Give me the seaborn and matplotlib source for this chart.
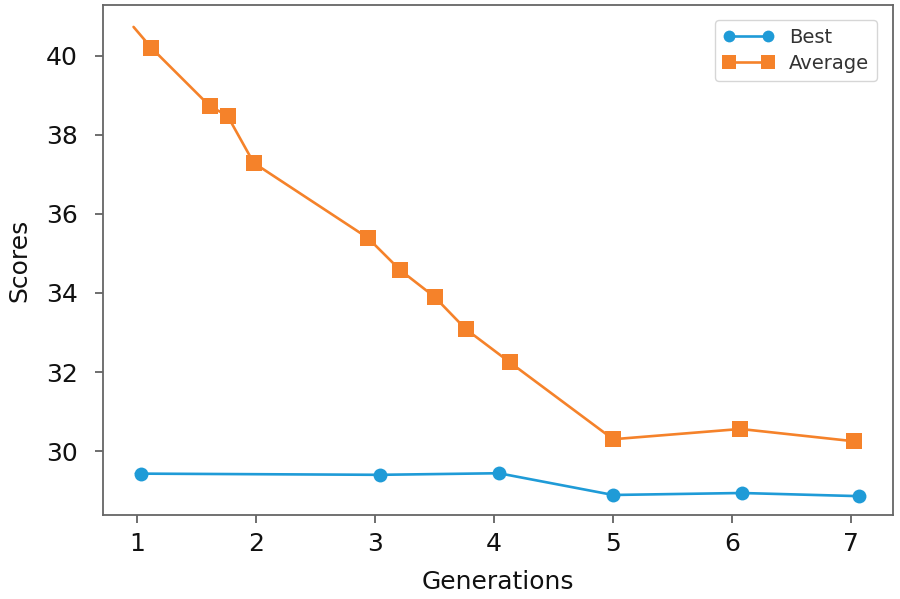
import numpy as np
import pandas as pd
import matplotlib
matplotlib.use("Agg")
import matplotlib.pyplot as plt
import seaborn as sns

# ================= DATA =================
best_gen = [0.99, 1.03, 3.04, 4.04, 5.00, 6.08, 7.07]
best_score = [29.44, 29.43, 29.40, 29.44, 28.89, 28.94, 28.86]

avg_gen = [0.97, 1.12, 1.61, 1.76, 1.98, 2.94, 3.21, 3.50, 3.76, 4.13, 5.00, 6.07, 7.02]
avg_score = [40.73, 40.20, 38.73, 38.48, 37.29, 35.39, 34.58, 33.90, 33.09, 32.25, 30.30, 30.56, 30.25]

x_ticks = [1, 2, 3, 4, 5, 6, 7]
y_ticks = [30, 32, 34, 36, 38, 40]

BLUE = "#1f9bd7"
ORANGE = "#f5822a"
# ========================================

sns.set_style("ticks")
plt.rcParams["font.family"] = ["DejaVu Sans"]

fig = plt.figure(figsize=(9, 5.99), dpi=100)
ax = fig.add_axes([0.114, 0.140, 0.878, 0.852])

sns.lineplot(x=best_gen, y=best_score, ax=ax, sort=False, color=BLUE,
             linewidth=1.9, marker="o", markersize=10, markeredgewidth=0,
             markevery=list(range(1, len(best_gen))), label="Best")
sns.lineplot(x=avg_gen, y=avg_score, ax=ax, sort=False, color=ORANGE,
             linewidth=1.9, marker="s", markersize=12, markeredgewidth=0,
             markevery=list(range(1, len(avg_gen))), label="Average")

ax.set_xlim(0.71, 7.35)
ax.set_ylim(28.38, 41.29)
ax.set_xticks(x_ticks)
ax.set_yticks(y_ticks)
ax.tick_params(axis="both", labelsize=18, length=6, width=1.2,
               color="#555555", labelcolor="#111111")
ax.tick_params(axis="y", pad=12)
ax.tick_params(axis="x", pad=6)
for s in ax.spines.values():
    s.set_color("#666666")
    s.set_linewidth(1.3)

ax.set_xlabel("Generations", fontsize=18, color="#111111", labelpad=10)
ax.set_ylabel("Scores", fontsize=18, color="#111111", labelpad=10)

leg = ax.legend(loc="upper right", fontsize=14, numpoints=2, frameon=True,
                borderaxespad=0.8, handlelength=2.6, markerscale=0.85,
                labelspacing=0.35, labelcolor="#333333")
leg.get_frame().set_edgecolor("#cccccc")

fig.savefig("out.png", dpi=100)
